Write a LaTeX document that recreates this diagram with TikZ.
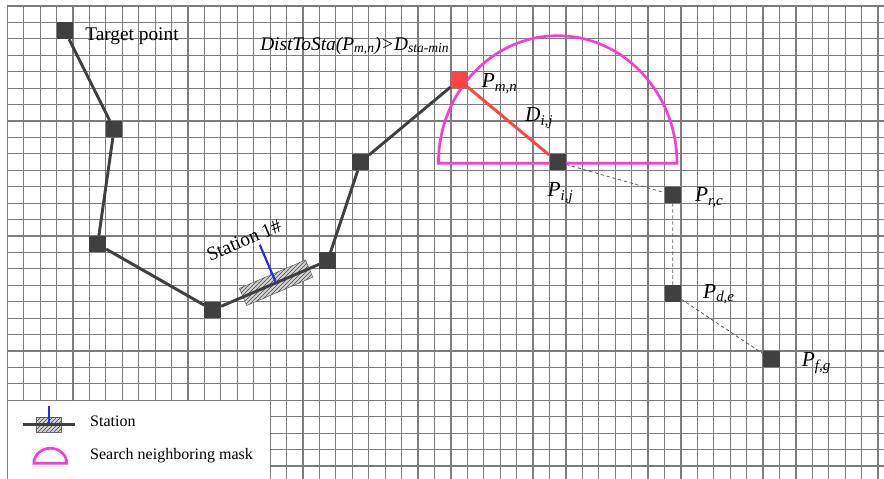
\documentclass[tikz,border=0pt]{standalone}
\usepackage{fontspec}
\setmainfont{Liberation Serif}
\usetikzlibrary{calc,patterns}
\definecolor{pathgray}{RGB}{64,64,64}
\definecolor{gridgray}{RGB}{125,125,125}
\definecolor{ptred}{RGB}{255,68,68}
\definecolor{maskpink}{RGB}{250,60,210}
\definecolor{leadblue}{RGB}{40,40,250}
\begin{document}
\begin{tikzpicture}[x=12.32pt,y=12.32pt,
  pt/.style={draw=none,fill=pathgray,minimum size=12.3pt,inner sep=0pt},
  route/.style={pathgray,line width=2.2pt},
  link/.style={pathgray!85,line width=0.6pt,dash pattern=on 2.5pt off 2pt},
  mask/.style={maskpink,line width=2pt},
  station/.style={draw=gray!80!black,fill=gray!35,minimum width=54pt,minimum height=14pt,inner sep=0pt,
    postaction={pattern=north east lines,pattern color=gray!60!black}},
  lbl/.style={font=\fontsize{16}{18}\selectfont\itshape,anchor=base west,inner sep=0pt},
  txt/.style={anchor=base west,inner sep=0pt}]
  \useasboundingbox (-0.444,0.365) rectangle (53.36,-28.73);
  \clip (-0.444,0.365) rectangle (53.36,-28.73);
  \draw[step=1,gridgray,line width=0.9pt] (0,-29) grid (54,0);
  \draw[mask] (26.24,-9.57) arc[start angle=180,end angle=0,x radius=7.26,y radius=7.76] -- cycle;

  \node[pt] (tgt) at (3.5,-1.5) {};
  \node[pt] (p2) at (6.5,-7.5) {};
  \node[pt] (p3) at (5.5,-14.5) {};
  \node[pt] (p4) at (12.5,-18.5) {};
  \node[pt] (p5) at (19.5,-15.5) {};
  \node[pt] (p6) at (21.5,-9.5) {};
  \node[pt,fill=ptred] (pmn) at (27.5,-4.5) {};
  \node[pt] (pij) at (33.5,-9.5) {};
  \node[pt] (prc) at (40.5,-11.5) {};
  \node[pt] (pde) at (40.5,-17.5) {};
  \node[pt] (pfg) at (46.5,-21.5) {};

  \path (p4) -- node[station,sloped,pos=0.56] (sta) {} (p5);
  \draw[route] (tgt) -- (p2) -- (p3) -- (p4) -- (p5) -- (p6) -- (pmn);
  \draw[ptred,line width=2.2pt] (pmn) -- (pij);
  \draw[link] (pij) -- (prc) -- (pde) -- (pfg);
  \coordinate (lead) at ($(sta.center)!31pt!(sta.north)$);
  \draw[leadblue,line width=1.6pt] (sta.center) -- (lead);

  \node[txt,font=\fontsize{14.5}{17}\selectfont] (tgtlbl) at (4.73,-2.11) {Target point};
  \node[rotate=23,font=\fontsize{14.5}{17}\selectfont] (stalbl) at (14.4,-14.25) {Station 1\#};
  \node[lbl,font=\fontsize{14.5}{17}\selectfont\itshape] (cond) at (15.38,-2.68)
    {DistToSta(P\textsubscript{m,n})>D\textsubscript{sta-min}};
  \node[lbl] (lmn) at (28.87,-4.99) {P\textsubscript{m,n}};
  \node[lbl] (ldij) at (31.5,-7.04) {D\textsubscript{i,j}};
  \node[lbl] (lij) at (32.87,-11.6) {P\textsubscript{i,j}};
  \node[lbl] (lrc) at (41.85,-11.91) {P\textsubscript{r,c}};
  \node[lbl] (lde) at (42.34,-17.79) {P\textsubscript{d,e}};
  \node[lbl] (lfg) at (48.35,-21.95) {P\textsubscript{f,g}};

  \draw[gridgray,line width=0.9pt,fill=white] (0,-24) rectangle (16,-30);
  \node[station,minimum width=19pt,minimum height=11pt] (legsta) at (2.53,-25.47) {};
  \draw[route,line width=1.8pt] ([xshift=-10pt]legsta.west) -- ([xshift=10pt]legsta.east);
  \draw[leadblue,line width=1.6pt] (legsta.center) -- ([yshift=8pt]legsta.north);
  \draw[mask] (1.62,-27.83) arc[start angle=180,end angle=0,x radius=1.0,y radius=0.91] -- cycle;
  \node[txt,font=\fontsize{12}{14}\selectfont] (legtxt1) at (5.03,-25.6) {Station};
  \node[txt,font=\fontsize{12}{14}\selectfont] (legtxt2) at (5.03,-27.63) {Search neighboring mask};
\end{tikzpicture}
\end{document}
